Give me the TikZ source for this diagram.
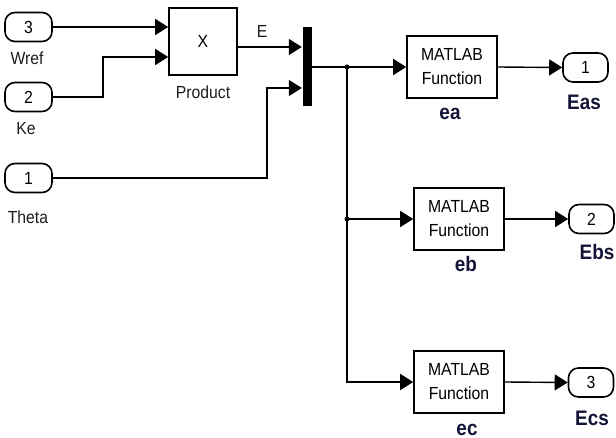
\documentclass[tikz,border=0pt]{standalone}
\usepackage{fontspec}
\setmainfont{Liberation Sans}[FakeStretch=0.9]
\usetikzlibrary{arrows.meta,calc}
\definecolor{lab}{RGB}{20,20,55}
\definecolor{txt}{RGB}{30,30,30}
\begin{document}
\begin{tikzpicture}[x=1pt,y=-1pt,
  line width=1.4pt,
  arr/.style={-{Triangle[length=13pt,width=16pt]}},
  port/.style={draw,line width=1.6pt,rounded corners=10pt,minimum width=47pt,minimum height=29pt,inner sep=0pt,font=\fontsize{17.5}{20}\selectfont},
  fbox/.style={draw,line width=1.6pt,minimum width=90pt,minimum height=62pt,inner sep=0pt,align=center,font=\fontsize{17.5}{24}\selectfont},
  lbl/.style={anchor=base,inner sep=0pt,font=\fontsize{17.5}{20}\selectfont,text=txt},
  blbl/.style={anchor=base,inner sep=0pt,font=\fontsize{21}{24}\selectfont\bfseries,text=lab},
  dot/.style={circle,fill,inner sep=0pt,minimum size=5pt}]
\useasboundingbox (0,0) rectangle (616,438);
\fill[white] (0,0) rectangle (616,438);
% inports
\node[port] (in3) at (28.5,27) {3};
\node[port] (in2) at (28.5,97) {2};
\node[port] (in1) at (28.5,178) {1};
\node[lbl] (lw) at (27,65) {Wref};
\node[lbl] (lk) at (26,135) {Ke};
\node[lbl] (lt) at (28,224) {Theta};
% product
\node[fbox,minimum width=68pt,minimum height=67pt] (prod) at (203,41.5) {X};
\node[lbl] (lp) at (203,99) {Product};
\node[lbl] (le) at (262,38) {E};
% mux
\node[fill=black,minimum width=9pt,minimum height=79pt,inner sep=0pt] (mux) at (307,66.5) {};
% functions
\node[fbox] (ea) at (452,67) {MATLAB\\Function};
\node[fbox] (eb) at (459,219) {MATLAB\\Function};
\node[fbox] (ec) at (459,382) {MATLAB\\Function};
\node[blbl] (lea) at (450,120) {ea};
\node[blbl] (leb) at (466,272) {eb};
\node[blbl] (lec) at (467,435) {ec};
% outports
\node[port,minimum width=45pt] (oa) at (585.5,67.5) {1};
\node[port,minimum width=45pt] (ob) at (591.5,219) {2};
\node[port,minimum width=45pt] (oc) at (591,382.5) {3};
\node[blbl] (leas) at (584,110) {Eas};
\node[blbl] (lebs) at (597,260) {Ebs};
\node[blbl] (lecs) at (592,425) {Ecs};
% connectors
\coordinate (p2) at ($(prod.west)+(0,15.5)$);
\coordinate (m1) at ($(mux.west)+(0,-19.5)$);
\coordinate (m2) at ($(mux.west)+(0,21.5)$);
\coordinate (br) at (347,67);
\draw[arr] (in3.east) -- (prod.west |- in3.east);
\draw[arr] (in2.east) -- ++(50,0) |- (p2);
\draw[arr] (prod.east |- m1) -- (m1);
\draw[arr] (in1.east) -- ++(214,0) |- (m2);
\draw[arr] (mux.east |- ea.west) -- (ea.west);
\draw[arr] (br) |- (ec.west);
\draw[arr] (br |- eb.west) -- (eb.west);
\node[dot] at (br) {};
\node[dot] at (br |- eb.west) {};
\draw[arr] (ea.east) -- (oa.west);
\draw[arr] (eb.east) -- (ob.west);
\draw[arr] (ec.east) -- (oc.west);
\end{tikzpicture}
\end{document}
